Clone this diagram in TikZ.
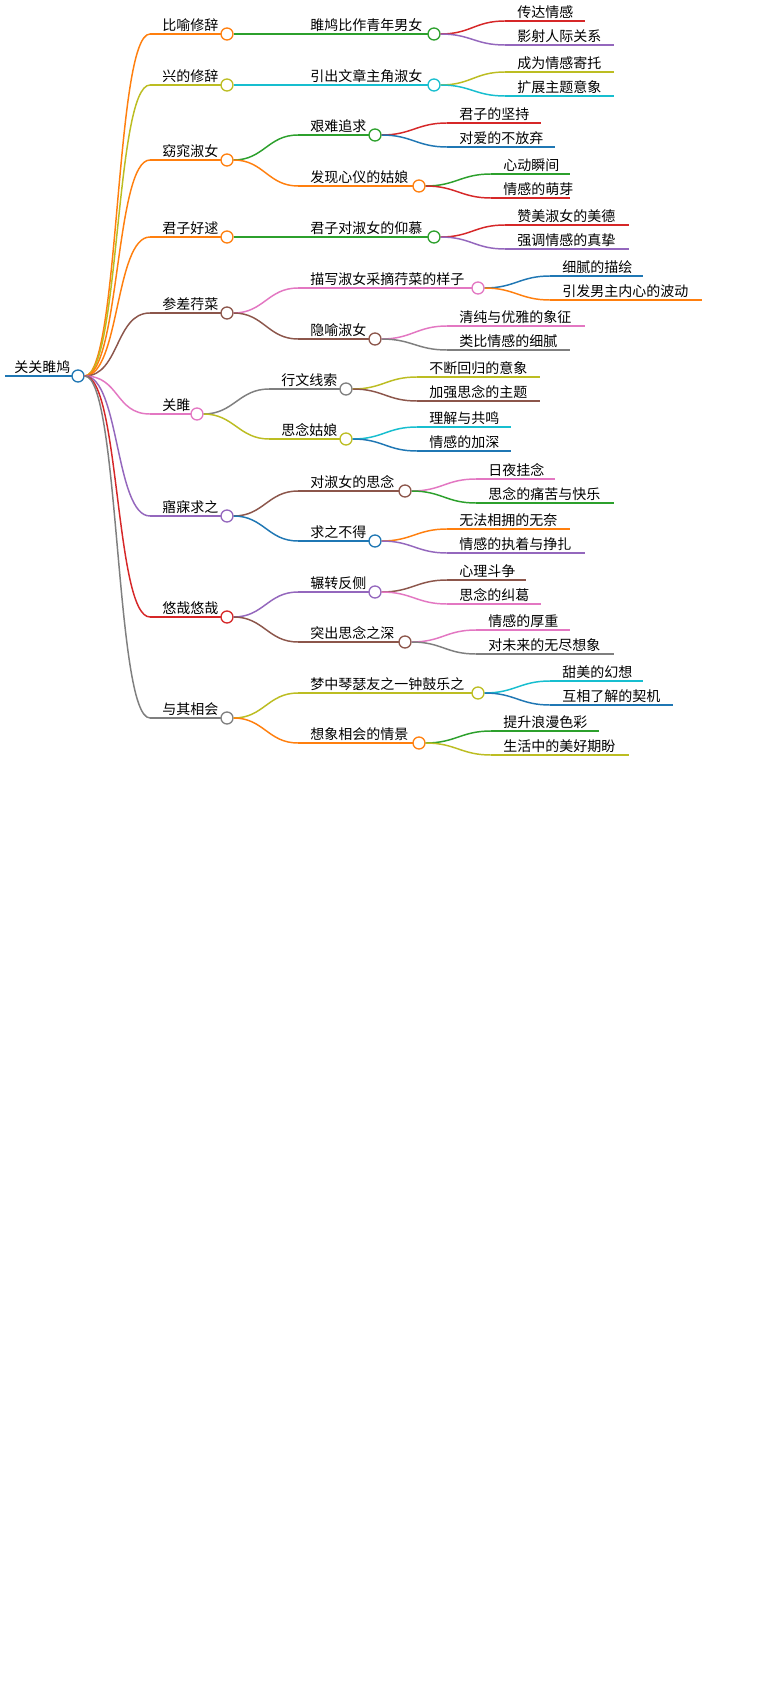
\documentclass[tikz,border=0pt]{standalone}
\usepackage{fontspec}
\setmainfont{Noto Sans CJK SC}
\definecolor{cor}{HTML}{FF7F0E}\definecolor{col}{HTML}{BCBD22}\definecolor{ccy}{HTML}{17BECF}
\definecolor{cgr}{HTML}{2CA02C}\definecolor{cre}{HTML}{D62728}\definecolor{cpu}{HTML}{9467BD}
\definecolor{cbl}{HTML}{1F77B4}\definecolor{cbr}{HTML}{8C564B}\definecolor{cpi}{HTML}{E377C2}
\definecolor{cgy}{HTML}{7F7F7F}
\newcommand\lf[6]{\coordinate (#1s) at (#2-10,#4);\draw[#5,line width=1.1pt] (#1s)--(#3,#4);
 \node[anchor=south west,inner sep=1.5pt,font=\fontsize{10.5}{12}\selectfont] (#1t) at (#2,#4) {#6};}
\newcommand\md[6]{\coordinate (#1s) at (#2-10,#4);\draw[#5,line width=1.1pt] (#1s)--(#3-6,#4);
 \node[anchor=south west,inner sep=1.5pt,font=\fontsize{10.5}{12}\selectfont] (#1t) at (#2,#4) {#6};
 \node[circle,draw=#5,fill=white,line width=1pt,minimum size=9pt,inner sep=0pt] (#1) at (#3,#4) {};}
\newcommand\ed[3]{\draw[#1,line width=1.1pt] (#2.east) .. controls +(30,0) and +(-30,0) .. (#3s);}
\newcommand\er[2]{\draw[#1,line width=1.1pt] (r.east) .. controls +(35,0) and +(-35,0) .. (#2s);}
\begin{document}
\begin{tikzpicture}[x=0.75pt,y=-0.75pt]
\useasboundingbox (0,0) rectangle (767,1701);
\fill[white] (0,0) rectangle (767,1701);
% root
\coordinate (rs) at (5,376);
\draw[cbl,line width=2.2pt] (rs)--(72,376);
\node[anchor=south west,inner sep=1.5pt,font=\fontsize{10.5}{12}\selectfont] (rt) at (12,376) {关关雎鸠};
\node[circle,draw=cbl,fill=white,line width=1pt,minimum size=9pt,inner sep=0pt] (r) at (78,376) {};
% level 1
\md{a}{160}{227}{34}{cor}{比喻修辞}
\md{b}{160}{227}{85}{col}{兴的修辞}
\md{c}{160}{227}{160}{cor}{窈窕淑女}
\md{d}{160}{227}{237}{cor}{君子好逑}
\md{e}{160}{227}{313}{cbr}{参差荇菜}
\md{f}{160}{197}{414}{cpi}{关雎}
\md{g}{160}{227}{516}{cpu}{寤寐求之}
\md{h}{160}{227}{617}{cre}{悠哉悠哉}
\md{i}{160}{227}{718}{cgy}{与其相会}
\foreach \n/\c in {a/cor,b/col,c/cor,d/cor,e/cbr,f/cpi,g/cpu,h/cre,i/cgy}{\er{\c}{\n}}
% level 2
\md{a1}{308}{434}{34}{cgr}{雎鸠比作青年男女}\ed{cgr}{a}{a1}
\md{b1}{308}{434}{85}{ccy}{引出文章主角淑女}\ed{ccy}{b}{b1}
\md{c1}{308}{375}{135}{cgr}{艰难追求}\ed{cgr}{c}{c1}
\md{c2}{308}{419}{186}{cor}{发现心仪的姑娘}\ed{cor}{c}{c2}
\md{d1}{308}{434}{237}{cgr}{君子对淑女的仰慕}\ed{cgr}{d}{d1}
\md{e1}{308}{478}{288}{cpi}{描写淑女采摘荇菜的样子}\ed{cpi}{e}{e1}
\md{e2}{308}{375}{339}{cbr}{隐喻淑女}\ed{cbr}{e}{e2}
\md{f1}{279}{346}{389}{cgy}{行文线索}\ed{cgy}{f}{f1}
\md{f2}{279}{346}{439}{col}{思念姑娘}\ed{col}{f}{f2}
\md{g1}{308}{405}{491}{cbr}{对淑女的思念}\ed{cbr}{g}{g1}
\md{g2}{308}{375}{541}{cbl}{求之不得}\ed{cbl}{g}{g2}
\md{h1}{308}{375}{592}{cpu}{辗转反侧}\ed{cpu}{h}{h1}
\md{h2}{308}{405}{642}{cbr}{突出思念之深}\ed{cbr}{h}{h2}
\md{i1}{308}{478}{693}{col}{梦中琴瑟友之一钟鼓乐之}\ed{col}{i}{i1}
\md{i2}{308}{419}{743}{cor}{想象相会的情景}\ed{cor}{i}{i2}
% leaves
\lf{a11}{515}{585}{21}{cre}{传达情感}\ed{cre}{a1}{a11}
\lf{a12}{515}{614}{45}{cpu}{影射人际关系}\ed{cpu}{a1}{a12}
\lf{b11}{515}{614}{72}{col}{成为情感寄托}\ed{col}{b1}{b11}
\lf{b12}{515}{614}{96}{ccy}{扩展主题意象}\ed{ccy}{b1}{b12}
\lf{c11}{457}{541}{123}{cre}{君子的坚持}\ed{cre}{c1}{c11}
\lf{c12}{457}{555}{147}{cbl}{对爱的不放弃}\ed{cbl}{c1}{c12}
\lf{c21}{501}{570}{174}{cgr}{心动瞬间}\ed{cgr}{c2}{c21}
\lf{c22}{501}{570}{198}{cre}{情感的萌芽}\ed{cre}{c2}{c22}
\lf{d11}{515}{629}{225}{cre}{赞美淑女的美德}\ed{cre}{d1}{d11}
\lf{d12}{515}{629}{249}{cpu}{强调情感的真挚}\ed{cpu}{d1}{d12}
\lf{e11}{560}{643}{276}{cbl}{细腻的描绘}\ed{cbl}{e1}{e11}
\lf{e12}{560}{702}{300}{cor}{引发男主内心的波动}\ed{cor}{e1}{e12}
\lf{e21}{457}{585}{326}{cpi}{清纯与优雅的象征}\ed{cpi}{e2}{e21}
\lf{e22}{457}{570}{350}{cgy}{类比情感的细腻}\ed{cgy}{e2}{e22}
\lf{f11}{427}{540}{377}{col}{不断回归的意象}\ed{col}{f1}{f11}
\lf{f12}{427}{540}{401}{cbr}{加强思念的主题}\ed{cbr}{f1}{f12}
\lf{f21}{427}{511}{427}{ccy}{理解与共鸣}\ed{ccy}{f2}{f21}
\lf{f22}{427}{511}{451}{cbl}{情感的加深}\ed{cbl}{f2}{f22}
\lf{g11}{486}{555}{479}{cpi}{日夜挂念}\ed{cpi}{g1}{g11}
\lf{g12}{486}{614}{503}{cgr}{思念的痛苦与快乐}\ed{cgr}{g1}{g12}
\lf{g21}{457}{570}{529}{cor}{无法相拥的无奈}\ed{cor}{g2}{g21}
\lf{g22}{457}{585}{553}{cpu}{情感的执着与挣扎}\ed{cpu}{g2}{g22}
\lf{h11}{457}{526}{580}{cbr}{心理斗争}\ed{cbr}{h1}{h11}
\lf{h12}{457}{541}{604}{cpi}{思念的纠葛}\ed{cpi}{h1}{h12}
\lf{h21}{486}{570}{630}{cpi}{情感的厚重}\ed{cpi}{h2}{h21}
\lf{h22}{486}{614}{654}{cgy}{对未来的无尽想象}\ed{cgy}{h2}{h22}
\lf{i11}{560}{643}{681}{ccy}{甜美的幻想}\ed{ccy}{i1}{i11}
\lf{i12}{560}{673}{705}{cbl}{互相了解的契机}\ed{cbl}{i1}{i12}
\lf{i21}{501}{599}{731}{cgr}{提升浪漫色彩}\ed{cgr}{i2}{i21}
\lf{i22}{501}{629}{755}{col}{生活中的美好期盼}\ed{col}{i2}{i22}
\end{tikzpicture}
\end{document}
